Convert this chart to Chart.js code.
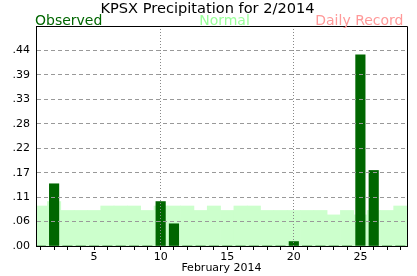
<!DOCTYPE html>
<html>
<head>
<meta charset="utf-8">
<script src="https://cdn.jsdelivr.net/npm/chart.js@4/dist/chart.umd.min.js"></script>
<style>
html,body{margin:0;padding:0;background:#fff;}
#wrap{width:417px;height:276px;}
</style>
</head>
<body>
<div id="wrap"><canvas id="c" width="417" height="276"></canvas></div>
<script>
// ---- data ----
const days = [1,2,3,4,5,6,7,8,9,10,11,12,13,14,15,16,17,18,19,20,21,22,23,24,25,26,27,28];
const observed = [0,0.14,0,0,0,0,0,0,0,0.10,0.05,0,0,0,0,0,0,0,0,0.01,0,0,0,0,0.43,0.17,0,0];
const normal = [0.09,0.10,0.08,0.08,0.08,0.09,0.09,0.09,0.08,0.09,0.09,0.09,0.08,0.09,0.08,0.09,0.09,0.08,0.08,0.08,0.08,0.08,0.07,0.08,0.07,0.08,0.08,0.09];
const yTickLabels = ['.00','.06','.11','.17','.22','.28','.33','.39','.44'];
const xLabelDays = [5,10,15,20,25];
const xGridDays = [10,20];
const titleText = 'KPSX Precipitation for 2/2014';
const legendLabels = ['Observed','Normal','Daily Record'];
const xAxisTitle = 'February 2014';

const FONT = '"DejaVu Sans", Verdana, sans-serif';

function alignPx(v){ return Math.round(v - 0.5) + 0.5; }

const textPlugin = {
  id: 'texts',
  afterDraw(chart){
    const c = chart.ctx, a = chart.chartArea;
    c.save();
    // frame (top & right)
    c.strokeStyle = '#000';
    c.lineWidth = 1;
    c.beginPath();
    const L = alignPx(a.left), R = alignPx(a.right), T = alignPx(a.top), B = alignPx(a.bottom);
    c.moveTo(L, T); c.lineTo(R, T); c.lineTo(R, B);
    c.stroke();
    // title
    c.fillStyle = '#000';
    c.font = '14.6px ' + FONT;
    c.textAlign = 'center';
    c.textBaseline = 'alphabetic';
    c.fillText(titleText, 207.5, 12.5);
    // legend texts
    c.font = '14px ' + FONT;
    c.textAlign = 'left';
    c.fillStyle = '#006600';
    c.fillText(legendLabels[0], a.left - 1, 24.5);
    c.textAlign = 'center';
    c.fillStyle = '#99ff99';
    c.fillText(legendLabels[1], 224.5, 24.5);
    c.textAlign = 'right';
    c.fillStyle = '#ff9999';
    c.fillText(legendLabels[2], a.right - 3.5, 24.5);
    c.restore();
  }
};

new Chart(document.getElementById('c'), {
  type: 'bar',
  data: {
    datasets: [
      {
        label: legendLabels[0],
        data: days.map((d, i) => ({x: d, y: observed[i]})),
        backgroundColor: '#006600',
        borderWidth: 0,
        barThickness: 9.5,
        grouped: false,
        order: 0
      },
      {
        label: legendLabels[1],
        data: days.map((d, i) => ({x: d, y: normal[i]})),
        backgroundColor: '#ccffcc',
        borderWidth: 0,
        barPercentage: 1,
        categoryPercentage: 1,
        grouped: false,
        order: 1
      }
    ]
  },
  options: {
    responsive: false,
    animation: false,
    devicePixelRatio: 1,
    layout: { padding: { top: 26, right: 10, left: 0, bottom: 0 } },
    plugins: {
      legend: { display: false },
      title: { display: false },
      tooltip: { enabled: false }
    },
    scales: {
      x: {
        type: 'linear',
        min: 0.64,
        max: 28.5,
        offset: false,
        afterFit: s => { s.height = 30; },
        grid: {
          offset: false,
          z: 1,
          color: ctx => (ctx.tick && xGridDays.includes(ctx.tick.value)) ? '#888' : 'rgba(0,0,0,0)',
          tickColor: '#000',
          tickLength: 4,
          drawTicks: true,
          tickBorderDash: []
        },
        border: { display: true, color: '#000', dash: [1, 2], z: 2 },
        ticks: {
          stepSize: 1,
          autoSkip: false,
          maxRotation: 0,
          minRotation: 0,
          includeBounds: false,
          padding: 1,
          color: '#000',
          font: { family: FONT, size: 11 },
          callback: v => xLabelDays.includes(v) ? String(v) : ''
        },
        title: {
          display: true,
          text: xAxisTitle,
          color: '#000',
          font: { family: FONT, size: 11 },
          padding: { top: 0, bottom: 1 }
        }
      },
      y: {
        min: 0,
        max: 0.495,
        afterFit: s => { s.width = 36; },
        grid: {
          z: 1,
          drawTicks: false,
          color: ctx => (ctx.index === 0) ? 'rgba(0,0,0,0)' : '#999'
        },
        border: { display: true, color: '#000', dash: [4, 3], z: 2 },
        ticks: {
          stepSize: 0.055,
          padding: 6,
          color: '#000',
          font: { family: FONT, size: 11 },
          callback: (v, i) => (yTickLabels[i] !== undefined ? yTickLabels[i] : '')
        }
      }
    }
  },
  plugins: [textPlugin]
});
</script>
</body>
</html>
